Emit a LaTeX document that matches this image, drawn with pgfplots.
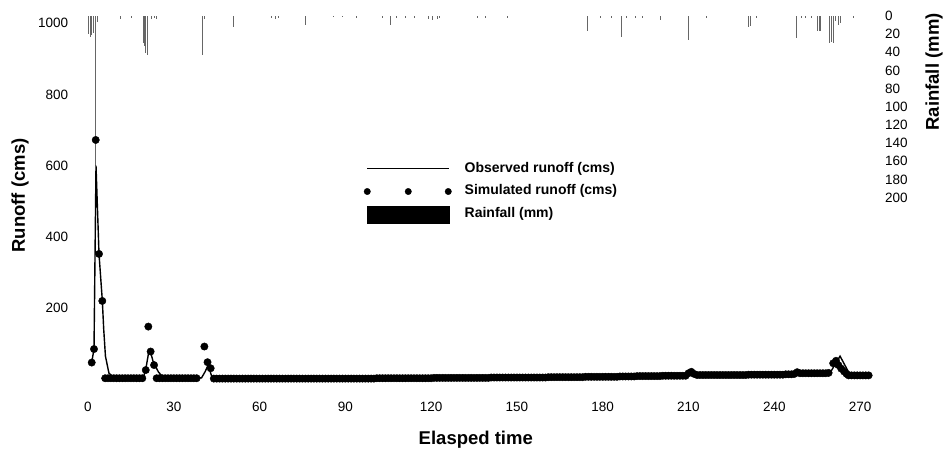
\documentclass[border=0pt]{standalone}
\usepackage{pgfplots}
\pgfplotsset{compat=1.18}
\usepackage{fontspec}
\setmainfont{Liberation Sans}

\begin{document}
\begin{tikzpicture}
\useasboundingbox (-86pt,-71.7pt) rectangle (859pt,379.3pt);
\pgfplotsset{
  common/.style={
    scale only axis, width=787.5pt, height=363.3pt,
    at={(0pt,0pt)}, anchor=south west,
    xmin=-0.7, xmax=274.7,
    axis line style={draw=none},
    major tick length=0pt, minor tick length=0pt,
    tick style={draw=none},
    /pgf/number format/assume math mode=true,
    /pgf/number format/1000 sep={},
    tick label style={font=\fontsize{13.5}{16}\selectfont, inner sep=0pt},
  }
}
% Rainfall axis (right, reversed)
\begin{axis}[common,
  axis x line=none, axis y line*=right,
  ymin=0, ymax=400, y dir=reverse,
  ytick={0,20,...,200},
  yticklabel style={anchor=west, xshift=11.5pt},
  ylabel={Rainfall (mm)},
  every axis y label/.style={at={(rel axis cs:1.0768,0.846)}, rotate=90, anchor=center,
    font=\bfseries\fontsize{18.5}{22}\selectfont},
]
\addplot[ycomb, black!60, line width=0.7pt] coordinates {
(0.1,20)(0.7,23)(1.3,21)(1.8,19)(2.6,165)(3.2,7)
(11.2,3)(15.3,2)(19.2,30)(19.7,33)(20.2,41)(20.6,43)(22.3,3)(23.3,2)(24,3)
(40.1,43)(40.6,3)(50.8,12)(64.2,2)(65.5,3)(66.5,2)(75.9,10)
(85.7,1)(88.8,1)(94,2)(103,2)(105.6,10)(108,2)(111,2)(114,2)(119,3)(120.5,4)(122,3)(123,2)
(136,2)(139,2)(146.5,2)(174.8,17)(179,2)(183,2)
(186.5,23)(188.3,2)(191.3,2)(194,2)(200,4)(209.8,26)(216.3,2)(230.8,12)(231.8,11)(233.7,2)
(247.8,24)(249.5,2)(251,2)(253,2)(254.9,17)(255.6,17)(256.2,16)
(259.4,30)(260,29)(260.6,30)(261.5,6)(262.5,10)(263.1,8)(267.5,2)
};
\end{axis}
% Runoff axis (left)
\begin{axis}[common,
  axis x line*=bottom, axis y line*=left,
  ymin=0, ymax=1020,
  xtick={0,30,...,270},
  ytick={200,400,...,1000},
  xticklabel style={anchor=center, yshift=-27.7pt},
  yticklabel style={anchor=east, xshift=-17.7pt},
  xlabel={Elasped time},
  ylabel={Runoff (cms)},
  every axis x label/.style={at={(rel axis cs:0.495,-0.167)}, anchor=center,
    font=\bfseries\fontsize{18.5}{22}\selectfont},
  every axis y label/.style={at={(rel axis cs:-0.0838,0.506)}, rotate=90, anchor=center,
    font=\bfseries\fontsize{18.5}{22}\selectfont},
  legend style={draw=none, fill=none, at={(0.3526,0.604)}, anchor=north west,
    inner sep=0pt, row sep=5.2pt, column sep=11pt,
    font=\bfseries\fontsize{14}{16}\selectfont,
    nodes={inner sep=2pt, text height=10pt, text depth=3.5pt},
    cells={anchor=west}},
]
\addplot[black, line width=1.4pt,
  legend image code/.code={\draw[line width=1.3pt] (0pt,0pt)--(82pt,0pt);}]
coordinates {
(1.3,47)(2.1,85)(2.8,600)(3.85,352)(5.0,222)(5.5,140)(6.1,65)(7.3,18)(9,4)
(19.3,4)(20.2,28)(21.1,70)(21.7,82)(22.8,49)(24.6,21)(26.3,5)
(39.7,4)(41,22)(42,40)(43.2,10)(44,3)
(110,3)(150,5)(186,10)(209.5,11)(210.5,21)(212,13)(246,13)(248,19)(249.5,17)
(259.5,18)(263,65)(266.4,14)(273.5,11)
};
\addlegendentry{Observed runoff (cms)}
\addplot[black, only marks, mark=*, mark size=3.7pt,
  legend image code/.code={\fill (0pt,0pt) circle (3.2pt); \fill (41pt,0pt) circle (3.2pt); \fill (81pt,0pt) circle (3.2pt);}]
coordinates {
(1.3,47)(2.1,85)(2.7,672)(3.85,352)(5.0,220)
(6,3)(7,3)(8,3)(9,3)(10,3)(11,3)(12,3)(13,3)(14,3)(15,3)(16,3)(17,3)(18,3)(19,3)
(20.2,26)(21.1,148)(21.9,78)(23.1,40)
(24,3)(25,3)(26,3)(27,3)(28,3)(29,3)(30,3)(31,3)(32,3)(33,3)(34,3)(35,3)(36,3)(37,3)(38,3)
(40.7,92)(41.8,48)(42.9,31)
(44,2)(45,2)(46,2)(47,2)(48,2)(49,2)(50,2)(51,2)(52,2)(53,2)
(54,2)(55,2)(56,2)(57,2)(58,2)(59,2)(60,2)(61,2)(62,2)(63,2)
(64,2)(65,2)(66,2)(67,2)(68,2)(69,2)(70,2)(71,2)(72,2)(73,2)
(74,2)(75,2)(76,2)(77,2)(78,2)(79,2)(80,2)(81,2)(82,2)(83,2)
(84,2)(85,2)(86,2)(87,2)(88,2)(89,2)(90,2)(91,2)(92,2)(93,2)
(94,2)(95,2)(96,2)(97,2)(98,2)(99,2)(100,2)
(101,3)(102,3)(103,3)(104,3)(105,3)(106,3)(107,3)(108,3)(109,3)(110,3)
(111,3)(112,3)(113,3)(114,3)(115,3)(116,3)(117,3)(118,3)(119,3)(120,3)
(121,4)(122,4)(123,4)(124,4)(125,4)(126,4)(127,4)(128,4)(129,4)(130,4)
(131,4)(132,4)(133,4)(134,4)(135,4)(136,4)(137,4)(138,4)(139,4)(140,4)
(141,5)(142,5)(143,5)(144,5)(145,5)(146,5)(147,5)(148,5)(149,5)(150,5)
(151,5)(152,5)(153,5)(154,5)(155,5)(156,5)(157,5)(158,5)(159,5)(160,5)
(161,6)(162,6)(163,6)(164,6)(165,6)(166,6)(167,6)(168,6)(169,6)(170,6)
(171,6)(172,6)(173,6)(174,7)(175,7)(176,7)(177,7)(178,7)(179,7)(180,7)
(181,7)(182,7)(183,7)(184,7)(185,7)(186,8)(187,8)(188,8)(189,8)(190,8)
(191,8)(192,9)(193,9)(194,9)(195,9)(196,9)(197,9)(198,9)(199,9)(200,9)
(201,10)(202,10)(203,10)(204,10)(205,10)(206,10)(207,10)(208,10)(209,10)
(210,17)(211,21)(212,15)
(213,12)(214,12)(215,12)(216,12)(217,12)(218,12)(219,12)(220,12)(221,12)(222,12)
(223,12)(224,12)(225,12)(226,12)(227,12)(228,12)(229,12)(230,12)(231,13)(232,13)
(233,13)(234,13)(235,13)(236,13)(237,13)(238,13)(239,13)(240,13)(241,13)(242,13)
(243,13)(244,14)(245,14)(246,14)
(247,15)(248,20)
(249,17)(250,17)(251,17)(252,17)(253,17)(254,17)(255,17)(256,17)(257,17)(258,17)
(259,18)(260.6,45)(261.6,52)(262.4,40)(263.4,30)(264.4,22)(265.3,15)
(266,11)(267,11)(268,11)(269,11)(270,11)(271,11)(272,11)(273,11)
};
\addlegendentry{Simulated runoff (cms)}
\addlegendimage{legend image code/.code={\fill[black] (0pt,-8.5pt) rectangle (82pt,8.5pt);}}
\addlegendentry{Rainfall (mm)}
\end{axis}
\end{tikzpicture}
\end{document}
